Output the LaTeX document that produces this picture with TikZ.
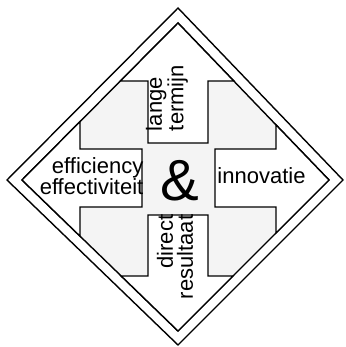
\documentclass[tikz,border=0pt]{standalone}
\usepackage{fontspec}
\setmainfont{Liberation Sans}
\definecolor{vlak}{gray}{0.955}
\begin{document}
\begin{tikzpicture}[x=1pt,y=-1pt,line join=miter]
    \tikzset{
      rand/.style={draw=black,line width=1.4pt},
      pijl/.style={draw=black,fill=white,line width=1.4pt},
      tekst/.style={inner sep=0pt,font=\fontsize{22}{20}\selectfont},
    }
    \useasboundingbox (0,0) rectangle (345,347);
    % buitenste en binnenste ruit
    \coordinate (OT) at (178,8);
    \coordinate (OR) at (343,180);
    \coordinate (OB) at (178,345);
    \coordinate (OL) at (7,180);
    \coordinate (IT) at (178,23);
    \coordinate (IR) at (329,180);
    \coordinate (IB) at (178,331);
    \coordinate (IL) at (22,180);
    \draw[rand,fill=white] (OT) -- (OR) -- (OB) -- (OL) -- cycle;
    \draw[rand,fill=vlak] (IT) -- (IR) -- (IB) -- (IL) -- cycle;
    % de vier pijlen
    \draw[pijl] (IT) -- (intersection of IT--IR and 0,81--345,81) -- (208,81) -- (208,143)
        -- (148,143) -- (148,81) -- (intersection of IT--IL and 0,81--345,81) -- cycle;
    \draw[pijl] (IB) -- (intersection of IB--IR and 0,276--345,276) -- (208,276) -- (208,215)
        -- (148,215) -- (148,276) -- (intersection of IB--IL and 0,276--345,276) -- cycle;
    \draw[pijl] (IL) -- (intersection of IL--IT and 80,0--80,347) -- (80,149) -- (142,149)
        -- (142,207) -- (80,207) -- (intersection of IL--IB and 80,0--80,347) -- cycle;
    \draw[pijl] (IR) -- (intersection of IR--IT and 276,0--276,347) -- (276,149) -- (215,149)
        -- (215,207) -- (276,207) -- (intersection of IR--IB and 276,0--276,347) -- cycle;
    % teksten
    \node[tekst,align=right,anchor=east] (eff) at (143.5,176) {efficiency\\effectiviteit};
    \node[tekst] (inno) at (261.5,176) {innovatie};
    \node[tekst,align=left,rotate=90] (lang) at (167,98) {lange\\termijn};
    \node[tekst,align=right,rotate=90] (dir) at (175,257) {direct\\resultaat};
    \node[inner sep=0pt,font=\fontsize{58}{58}\selectfont] (en) at (179.5,181) {\&};
\end{tikzpicture}
\end{document}
